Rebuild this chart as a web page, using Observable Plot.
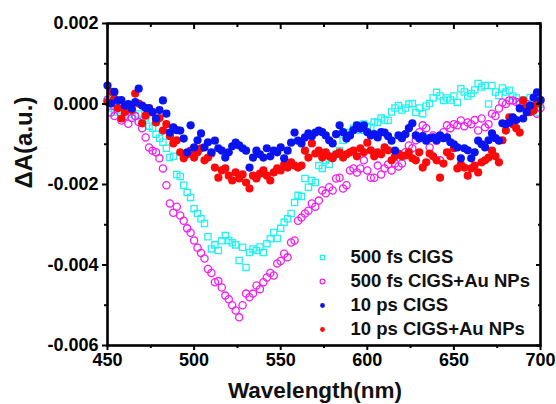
<!DOCTYPE html>
<html><head><meta charset="utf-8">
<script src="https://cdn.jsdelivr.net/npm/d3@7"></script>
<script src="https://cdn.jsdelivr.net/npm/@observablehq/plot@0.6"></script>
<style>body{margin:0;background:#fff;}</style>
</head><body><div id="chart"></div>
<script>
const wavelengths = [
  450,452,454,456,458,460,462,464,466,468,
  470,472,474,476,478,480,482,484,486,488,
  490,492,494,496,498,500,502,504,506,508,
  510,512,514,516,518,520,522,524,526,528,
  530,532,534,536,538,540,542,544,546,548,
  550,552,554,556,558,560,562,564,566,568,
  570,572,574,576,578,580,582,584,586,588,
  590,592,594,596,598,600,602,604,606,608,
  610,612,614,616,618,620,622,624,626,628,
  630,632,634,636,638,640,642,644,646,648,
  650,652,654,656,658,660,662,664,666,668,
  670,672,674,676,678,680,682,684,686,688,
  690,692,694,696,698,700
];
// ΔA values in units of 1e-3
const fs500CIGS = [
  0.1,-0.1,-0.2,0.0,-0.15,-0.1,-0.25,-0.2,-0.3,-0.25,
  -0.4,-0.35,-0.55,-0.6,-0.75,-0.85,-0.95,-1.1,-1.33,-1.3,
  -1.75,-1.8,-2.02,-2.2,-2.32,-2.6,-2.72,-2.85,-2.97,-3.3,
  -3.6,-3.5,-3.64,-3.4,-3.27,-3.39,-3.45,-3.5,-3.89,-3.56,
  -4.06,-3.69,-3.6,-3.64,-3.55,-3.69,-3.47,-3.35,-3.19,-3.34,
  -3.09,-2.94,-2.85,-2.72,-2.45,-2.27,-2.3,-1.85,-2.07,-1.9,
  -1.95,-1.53,-1.6,-1.4,-1.5,-1.3,-1.25,-1.16,-0.9,-0.71,
  -0.75,-0.6,-0.53,-0.65,-0.5,-0.55,-0.58,-0.45,-0.46,-0.35,
  -0.4,-0.41,-0.2,-0.1,-0.04,-0.15,-0.1,0.0,0.01,-0.21,
  -0.1,-0.24,-0.05,0.01,0.15,0.29,0.2,0.09,0.15,0.1,
  0.2,0.04,0.38,0.3,0.2,0.26,0.35,0.51,0.42,0.46,
  0.0,0.46,0.3,0.21,0.4,0.3,0.34,0.2,0.15,0.05,
  0.1,-0.21,0.16,0.09,-0.2,0.0
];
const fs500CIGSAu = [
  0.1,-0.21,-0.3,-0.1,-0.41,-0.3,-0.49,-0.35,-0.3,-0.45,
  -0.6,-0.83,-1.08,-1.16,-1.2,-1.35,-1.6,-2.02,-2.47,-2.7,
  -2.55,-2.77,-2.9,-3.09,-3.2,-3.39,-3.57,-3.7,-3.84,-4.1,
  -4.2,-4.43,-4.4,-4.56,-4.76,-4.85,-5.0,-5.13,-5.3,-5.0,
  -4.71,-4.8,-4.71,-4.51,-4.6,-4.43,-4.31,-4.2,-4.26,-3.96,
  -3.9,-3.72,-3.81,-3.44,-3.39,-2.9,-2.82,-2.72,-2.65,-2.47,
  -2.55,-2.4,-2.15,-2.22,-2.07,-2.15,-1.85,-1.83,-2.1,-2.02,
  -1.65,-1.6,-1.7,-1.6,-1.4,-1.65,-1.83,-1.83,-1.53,-1.75,
  -1.6,-1.5,-1.65,-1.48,-1.55,-1.48,-1.2,-1.03,-1.1,-0.9,
  -0.7,-0.53,-0.6,-1.08,-0.78,-0.91,-1.4,-0.7,-0.53,-0.6,
  -0.5,-0.53,-0.41,-0.55,-0.46,-0.5,-0.4,-0.66,-0.36,-0.58,
  -0.5,-0.24,-0.3,-0.11,0.04,0.0,0.09,0.09,0.05,0.0,
  -0.05,0.0,-0.1,-0.15,-0.24,-0.1
];
const ps10CIGS = [
  0.46,0.01,0.3,0.09,0.1,-0.04,0.0,-0.11,0.05,0.38,
  -0.04,-0.1,-0.11,-0.2,-0.36,-0.15,0.09,-0.24,-0.71,-0.58,
  -0.65,-0.66,-0.86,-1.2,-0.53,-1.08,-0.9,-0.73,-1.08,-0.95,
  -1.2,-0.91,-1.1,-1.16,-1.33,-1.2,-1.05,-0.96,-1.03,-1.1,
  -1.16,-1.58,-1.33,-1.16,-1.25,-1.33,-1.1,-1.3,-1.16,-1.2,
  -1.08,-1.35,-1.16,-0.96,-0.71,-0.91,-0.98,-0.83,-0.73,-0.8,
  -0.71,-0.66,-0.7,-0.78,-0.9,-0.98,-0.75,-0.53,-0.7,-0.86,
  -0.78,-0.65,-0.53,-0.61,-0.53,-0.7,-0.78,-0.75,-0.83,-0.7,
  -0.71,-0.8,-0.91,-1.16,-0.78,-0.85,-0.75,-0.6,-0.48,-0.78,
  -0.86,-0.8,-0.91,-0.85,-0.83,-0.9,-0.78,-0.85,-0.83,-0.95,
  -1.0,-1.08,-1.35,-1.1,-1.15,-1.35,-1.2,-0.91,-1.0,-1.08,
  -0.9,-0.73,-0.85,-0.91,-0.48,-0.5,-0.46,-0.33,-0.4,-0.11,
  -0.36,-0.2,-0.04,0.16,0.29,0.1
];
const ps10CIGSAu = [
  0.05,0.3,0.13,-0.1,-0.36,-0.2,-0.1,-0.15,0.26,0.01,
  -0.48,-0.29,-0.1,-0.21,-0.46,-0.35,-0.66,-0.5,-0.8,-0.98,
  -0.9,-1.2,-1.35,-1.25,-1.16,-1.33,-1.2,-1.1,-1.4,-1.33,
  -1.23,-1.58,-1.83,-1.65,-1.6,-1.78,-1.9,-1.7,-1.85,-1.75,
  -1.95,-2.1,-1.78,-1.85,-1.73,-1.65,-1.78,-1.9,-1.7,-1.6,
  -1.65,-1.5,-1.58,-1.45,-1.53,-1.58,-1.53,-1.16,-1.33,-0.98,
  -1.23,-1.16,-1.33,-1.2,-1.3,-1.35,-1.25,-1.2,-1.33,-1.25,
  -1.2,-1.16,-1.3,-1.1,-1.2,-0.96,-1.15,-1.3,-1.2,-1.25,
  -1.08,-1.15,-1.4,-1.3,-1.23,-1.3,-1.28,-1.2,-1.35,-1.4,
  -1.2,-1.58,-1.45,-1.23,-1.3,-1.4,-1.83,-1.48,-1.2,-1.3,
  -1.1,-1.6,-1.5,-1.58,-1.78,-1.6,-1.53,-1.7,-1.45,-1.4,
  -1.33,-1.16,-1.3,-1.45,-0.9,-0.66,-0.33,-0.5,-0.6,-0.71,
  0.09,-0.09,-0.2,-0.16,0.01,0.1
];
const seriesNames = ["500 fs CIGS", "500 fs CIGS+Au NPs", "10 ps CIGS", "10 ps CIGS+Au NPs"];
const xTicks = [450, 500, 550, 600, 650, 700];
const xMinor = [475, 525, 575, 625, 675];
const yTicks = [0.002, 0.000, -0.002, -0.004, -0.006];
const yMinor = [0.001, -0.001, -0.003, -0.005];
const unit = 1e-3;

const rows = vals => wavelengths.map((w, i) => ({w, v: vals[i] * unit}));

const styles = [
  {symbol: "square", fill: "none", stroke: "#22F2F2", strokeWidth: 1.3, r: 3.5},
  {symbol: "circle", fill: "none", stroke: "#F01EF0", strokeWidth: 1.3, r: 3.6},
  {symbol: "circle", fill: "#0A14F0", stroke: "none", r: 4.1},
  {symbol: "circle", fill: "#FA0A0A", stroke: "none", r: 4.1}
];
const seriesData = [fs500CIGS, fs500CIGSAu, ps10CIGSAu, ps10CIGS];
const drawStyles = [styles[0], styles[1], styles[3], styles[2]];

const W = 556, H = 404;
const mL = 107, mR = 16, mT = 23, mB = 59;

const marks = [];
seriesData.forEach((vals, k) => {
  marks.push(Plot.dot(rows(vals), {x: "w", y: "v", ...drawStyles[k]}));
});
marks.push(Plot.frame({strokeWidth: 2.6}));
const ax = {fontSize: 18, fontWeight: "bold", strokeWidth: 2, label: null};
marks.push(Plot.axisX(xTicks, {...ax, tickSize: 5, tickPadding: 3, tickFormat: d => String(d)}));
marks.push(Plot.axisX(xMinor, {...ax, tickSize: 3, tickFormat: () => ""}));
marks.push(Plot.axisX(xTicks, {...ax, anchor: "top", tickSize: -5, tickFormat: () => ""}));
marks.push(Plot.axisX(xMinor, {...ax, anchor: "top", tickSize: -3, tickFormat: () => ""}));
marks.push(Plot.axisY(yTicks, {...ax, tickSize: 5, tickPadding: 4, tickFormat: d => d.toFixed(3)}));
marks.push(Plot.axisY(yMinor, {...ax, tickSize: 3, tickFormat: () => ""}));
marks.push(Plot.axisY(yTicks, {...ax, anchor: "right", tickSize: -5, tickFormat: () => ""}));
marks.push(Plot.axisY(yMinor, {...ax, anchor: "right", tickSize: -3, tickFormat: () => ""}));

// legend
seriesNames.forEach((name, i) => {
  const s = styles[i];
  marks.push(Plot.dot([name], {frameAnchor: "top-left", dx: 215, dy: 234 + i * 24,
    symbol: s.symbol, fill: s.fill, stroke: s.stroke, strokeWidth: 1.2, r: 2.4}));
  marks.push(Plot.text([name], {text: d => d, frameAnchor: "top-left", dx: 243, dy: 234 + i * 24,
    textAnchor: "start", lineAnchor: "middle", fontSize: 18.5, fontWeight: "bold", fill: "#111"}));
});

// axis titles
marks.push(Plot.text(["Wavelength(nm)"], {text: d => d, frameAnchor: "bottom", dx: -9, dy: 45,
  lineAnchor: "middle", fontSize: 22.5, fontWeight: "bold", fill: "#111"}));
marks.push(Plot.text(["ΔA(a.u.)"], {text: d => d, frameAnchor: "left", dx: -83, dy: 4, rotate: -90,
  lineAnchor: "middle", fontSize: 24, fontWeight: "bold", fill: "#111"}));

const chart = Plot.plot({
  width: W, height: H,
  marginLeft: mL, marginRight: mR, marginTop: mT, marginBottom: mB,
  style: {fontFamily: "'Liberation Sans', Arial, sans-serif", background: "#fff", color: "#000"},
  x: {domain: [450, 700]},
  y: {domain: [-0.006, 0.002]},
  marks
});
document.getElementById("chart").appendChild(chart);
</script>
</body></html>
